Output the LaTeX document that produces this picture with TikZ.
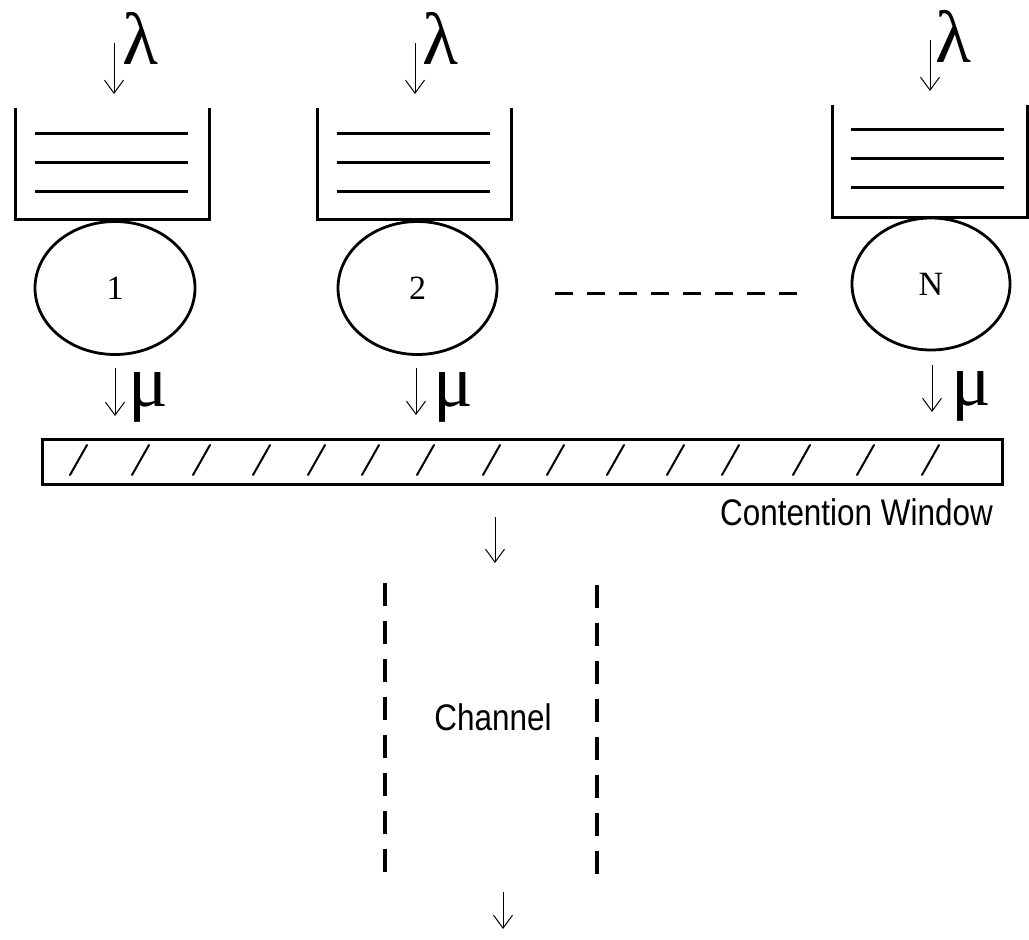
\documentclass[tikz,border=0pt]{standalone}
\usepackage{fontspec}
\usepackage{graphicx}
\setmainfont{Liberation Serif}
\newfontfamily\labelsans{Liberation Sans}
\usetikzlibrary{arrows.meta,shapes.geometric}

\tikzset{
  queuewall/.style={line width=3pt, line join=miter},
  queueline/.style={line width=3pt},
  server/.style={draw, ellipse, line width=2.8pt, inner sep=0pt,
                 font=\fontsize{34}{38}\selectfont},
  flow/.style={line width=1pt, -{Straight Barb[length=13pt,width=19pt]}},
  rate/.style={inner sep=0pt, font=\fontsize{74}{80}\selectfont},
  slot/.style={line width=2pt, line cap=round},
  ellipsis/.style={line width=3pt, dash pattern=on 18pt off 14pt},
  channelwall/.style={line width=3.2pt, dash pattern=on 23pt off 15pt},
  caption/.style={inner sep=0pt, font=\labelsans\fontsize{37}{42}\selectfont}
}

\begin{document}
\begin{tikzpicture}[x=1pt,y=-1pt]
  \useasboundingbox[fill=white] (0,0) rectangle (1029,940);

  % ---- station 1 ----
  \draw[queuewall] (15,108) -- (15,219) -- (209,219) -- (209,108);
  \foreach \y in {133,162,191} \draw[queueline] (35,\y) -- (188,\y);
  \node[server, minimum width=160pt, minimum height=133pt] (srv1) at (115,288) {1};
  \coordinate (in1a) at (114,43);  \coordinate (in1b) at (114,94);
  \draw[flow] (in1a) -- (in1b);
  \node[rate] (lam1) at (140,38) {λ};
  \coordinate (out1a) at (115,368); \coordinate (out1b) at (115,416);
  \draw[flow] (out1a) -- (out1b);
  \node[rate] (mu1) at (148,397) {μ};

  % ---- station 2 ----
  \draw[queuewall] (317,108) -- (317,219) -- (511,219) -- (511,108);
  \foreach \y in {133,162,191} \draw[queueline] (337,\y) -- (490,\y);
  \node[server, minimum width=159pt, minimum height=133pt] (srv2) at (417.5,288) {2};
  \coordinate (in2a) at (415,43);  \coordinate (in2b) at (415,94);
  \draw[flow] (in2a) -- (in2b);
  \node[rate] (lam2) at (440,38) {λ};
  \coordinate (out2a) at (416,368); \coordinate (out2b) at (416,415);
  \draw[flow] (out2a) -- (out2b);
  \node[rate] (mu2) at (453,397) {μ};

  % ---- station N ----
  \draw[queuewall] (832,105) -- (832,217) -- (1027,217) -- (1027,105);
  \foreach \y in {129,158,187} \draw[queueline] (851,\y) -- (1004,\y);
  \node[server, minimum width=158pt, minimum height=132pt] (srvN) at (931,284) {N};
  \coordinate (inNa) at (930,40);  \coordinate (inNb) at (930,91);
  \draw[flow] (inNa) -- (inNb);
  \node[rate] (lamN) at (953,36) {λ};
  \coordinate (outNa) at (932,365); \coordinate (outNb) at (932,412);
  \draw[flow] (outNa) -- (outNb);
  \node[rate] (muN) at (971,396) {μ};

  % ---- stations in between ----
  \coordinate (dotsL) at (555,293); \coordinate (dotsR) at (798,293);
  \draw[ellipsis] (dotsL) -- (dotsR);

  % ---- contention window ----
  \node[draw, line width=3pt, minimum width=960pt, minimum height=45pt,
        inner sep=0pt] (cw) at (522,461.5) {};
  \foreach \b in {70,132,193,253,308,362,417,483,547,607,667,722,793,857,922}
    \draw[slot] (\b,475) -- (\b+17,445);
  \node[caption, anchor=base east] (cwlabel) at (993,525)
    {\scalebox{0.85}[1]{Contention Window}};
  \coordinate (cwouta) at (495,517); \coordinate (cwoutb) at (495,563);
  \draw[flow] (cwouta) -- (cwoutb);

  % ---- channel ----
  \coordinate (chL1) at (385,583); \coordinate (chL2) at (385,880);
  \coordinate (chR1) at (597,585); \coordinate (chR2) at (597,882);
  \draw[channelwall] (chL1) -- (chL2);
  \draw[channelwall] (chR1) -- (chR2);
  \node[caption, anchor=base] (chlabel) at (493,730) {\scalebox{0.85}[1]{Channel}};
  \coordinate (chouta) at (503,892); \coordinate (choutb) at (503,929);
  \draw[flow] (chouta) -- (choutb);
\end{tikzpicture}
\end{document}
